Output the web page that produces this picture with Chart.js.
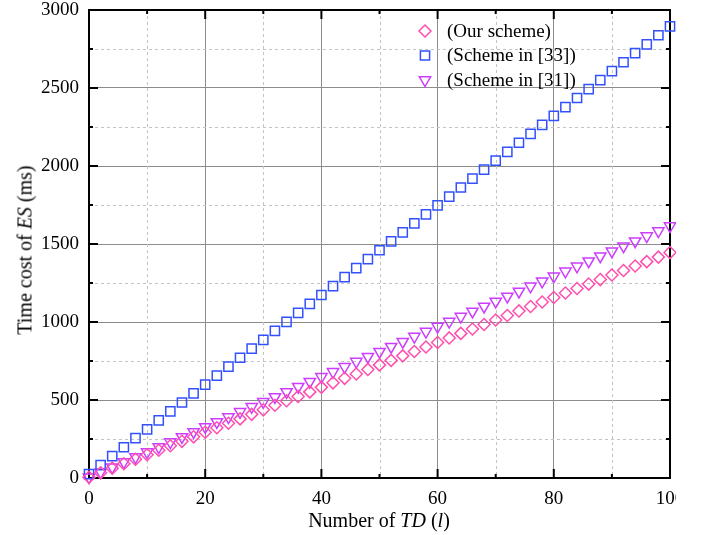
<!DOCTYPE html>
<html>
<head>
<meta charset="utf-8">
<script src="https://cdn.jsdelivr.net/npm/chart.js@4"></script>
<style>
  body { margin: 0; background: #fff; }
  #wrap { position: relative; width: 702px; height: 535px; }
  #clip { position: absolute; left: 0; top: 0; width: 676px; height: 535px; overflow: hidden; }
  .axis-title { position: absolute; font-family: 'Liberation Serif', serif; font-size: 20px; color: #000; white-space: nowrap; }
  #ytitle { left: 25px; top: 250px; transform: translate(-50%, -50%) rotate(-90deg); }
  #xtitle { left: 379px; top: 520px; transform: translate(-50%, -50%); }
</style>
</head>
<body>
<div id="wrap">
  <div id="clip"><canvas id="myChart" width="702" height="535"></canvas></div>
  <div id="ytitle" class="axis-title">Time cost of <i>ES</i> (ms)</div>
  <div id="xtitle" class="axis-title">Number of <i>TD</i> (<i>l</i>)</div>
</div>
<script>
const tdCounts = [0, 2, 4, 6, 8, 10, 12, 14, 16, 18, 20, 22, 24, 26, 28, 30, 32, 34, 36, 38, 40,
  42, 44, 46, 48, 50, 52, 54, 56, 58, 60, 62, 64, 66, 68, 70, 72, 74, 76, 78, 80,
  82, 84, 86, 88, 90, 92, 94, 96, 98, 100];

// time cost (ms)
const ourScheme = [5, 34, 63, 91, 120, 149, 178, 207, 235, 264, 293, 322, 351, 379, 408, 437, 466, 495, 523, 552, 581,
  610, 639, 667, 696, 725, 754, 783, 811, 840, 869, 898, 927, 955, 984, 1013, 1042, 1071, 1099, 1128, 1157,
  1186, 1215, 1243, 1272, 1301, 1330, 1359, 1387, 1416, 1445];
const scheme33 = [25, 82, 140, 197, 255, 312, 369, 427, 484, 542, 599, 656, 714, 771, 829, 886, 943, 1001, 1058, 1116, 1173,
  1230, 1288, 1345, 1403, 1460, 1517, 1575, 1632, 1690, 1747, 1804, 1862, 1919, 1977, 2034, 2091, 2149, 2206, 2264, 2321,
  2378, 2436, 2493, 2551, 2608, 2665, 2723, 2780, 2838, 2895];
const scheme31 = [5, 37, 69, 102, 134, 166, 198, 230, 263, 295, 327, 359, 391, 424, 456, 488, 520, 552, 585, 617, 649,
  681, 713, 746, 778, 810, 842, 874, 907, 939, 971, 1003, 1035, 1068, 1100, 1132, 1164, 1196, 1229, 1261, 1293,
  1325, 1357, 1390, 1422, 1454, 1486, 1518, 1551, 1583, 1615];

const seriesLabels = ['(Our scheme)', '(Scheme in [33])', '(Scheme in [31])'];
const xTicks = { min: 0, max: 100, step: 10, labelEvery: 20 };
const yTicks = { min: 0, max: 3000, step: 250, labelEvery: 500 };

const FONT = 'Liberation Serif';
const styles = [
  { color: '#ff4fae', pointStyle: 'rectRot', radius: 6, rotation: 0 },
  { color: '#3350ff', pointStyle: 'rect', radius: 6.5, rotation: 0 },
  { color: '#cc3dff', pointStyle: 'triangle', radius: 6.5, rotation: 180 }
];

const toPoints = (vals) => vals.map((v, i) => ({ x: tdCounts[i], y: v }));

// frame, minor dashed grid, inward ticks and the legend
const framePlugin = {
  id: 'frame',
  beforeDatasetsDraw(chart) {
    const { ctx, chartArea: a, scales: { x, y } } = chart;
    ctx.save();
    ctx.strokeStyle = '#c4c4c4';
    ctx.lineWidth = 1;
    ctx.setLineDash([3, 3]);
    for (let v = xTicks.min + xTicks.step; v < xTicks.max; v += xTicks.step) {
      if (v % xTicks.labelEvery === 0) continue;
      const px = Math.round(x.getPixelForValue(v)) + 0.5;
      ctx.beginPath(); ctx.moveTo(px, a.top); ctx.lineTo(px, a.bottom); ctx.stroke();
    }
    for (let v = yTicks.min + yTicks.step; v < yTicks.max; v += yTicks.step) {
      if (v % yTicks.labelEvery === 0) continue;
      const py = Math.round(y.getPixelForValue(v)) + 0.5;
      ctx.beginPath(); ctx.moveTo(a.left, py); ctx.lineTo(a.right, py); ctx.stroke();
    }
    ctx.setLineDash([]);
    ctx.strokeStyle = '#000';
    ctx.lineWidth = 2;
    ctx.strokeRect(a.left, a.top, a.right - a.left, a.bottom - a.top);
    // inward tick marks on all four sides
    for (let v = xTicks.min; v <= xTicks.max; v += xTicks.step) {
      const len = v % xTicks.labelEvery === 0 ? 9 : 4;
      const px = x.getPixelForValue(v);
      ctx.beginPath();
      ctx.moveTo(px, a.bottom); ctx.lineTo(px, a.bottom - len);
      ctx.moveTo(px, a.top); ctx.lineTo(px, a.top + len);
      ctx.stroke();
    }
    for (let v = yTicks.min; v <= yTicks.max; v += yTicks.step) {
      const len = v % yTicks.labelEvery === 0 ? 9 : 4;
      const py = y.getPixelForValue(v);
      ctx.beginPath();
      ctx.moveTo(a.left, py); ctx.lineTo(a.left + len, py);
      ctx.moveTo(a.right, py); ctx.lineTo(a.right - len, py);
      ctx.stroke();
    }
    ctx.restore();
  },
  afterDraw(chart) {
    const ctx = chart.ctx;
    ctx.save();
    ctx.font = '19px ' + FONT;
    ctx.textBaseline = 'middle';
    seriesLabels.forEach((label, i) => {
      const yy = 31 + i * 24.5;
      const s = styles[i];
      ctx.strokeStyle = s.color;
      ctx.fillStyle = 'rgba(0,0,0,0)';
      ctx.lineWidth = 1.5;
      Chart.helpers.drawPoint(ctx, { pointStyle: s.pointStyle, radius: s.radius, rotation: s.rotation, borderWidth: 1.5 }, 425, yy);
      ctx.fillStyle = '#000';
      ctx.fillText(label, 447, yy + 1);
    });
    ctx.restore();
  }
};

const datasets = [ourScheme, scheme33, scheme31].map((vals, i) => ({
  label: seriesLabels[i],
  data: toPoints(vals),
  showLine: false,
  pointStyle: styles[i].pointStyle,
  pointRotation: styles[i].rotation,
  pointRadius: styles[i].radius,
  pointBorderColor: styles[i].color,
  pointBackgroundColor: 'rgba(0,0,0,0)',
  pointBorderWidth: 1.5,
  clip: false
}));

new Chart('myChart', {
  type: 'scatter',
  data: { datasets },
  plugins: [framePlugin],
  options: {
    responsive: false,
    animation: false,
    layout: { padding: { left: 0, top: 10, right: 32, bottom: 0 } },
    plugins: { legend: { display: false }, tooltip: { enabled: false } },
    scales: {
      x: {
        type: 'linear',
        min: xTicks.min,
        max: xTicks.max,
        afterFit: (s) => { s.height = 57; s.paddingLeft = 0; s.paddingRight = 0; },
        border: { display: false },
        grid: {
          drawTicks: false,
          color: (c) => (c.tick && c.tick.value % xTicks.labelEvery === 0 ? '#8c8c8c' : 'rgba(0,0,0,0)'),
          lineWidth: 1
        },
        ticks: {
          stepSize: xTicks.step,
          padding: 10,
          color: '#000',
          maxRotation: 0,
          autoSkip: false,
          font: { family: FONT, size: 19 },
          callback: (v) => (v % xTicks.labelEvery === 0 ? v : '')
        }
      },
      y: {
        min: yTicks.min,
        max: yTicks.max,
        afterFit: (s) => { s.width = 89; s.paddingTop = 0; s.paddingBottom = 0; },
        border: { display: false },
        grid: {
          drawTicks: false,
          color: (c) => (c.tick && c.tick.value % yTicks.labelEvery === 0 ? '#8c8c8c' : 'rgba(0,0,0,0)'),
          lineWidth: 1
        },
        ticks: {
          stepSize: yTicks.step,
          padding: 10,
          color: '#000',
          autoSkip: false,
          font: { family: FONT, size: 19 },
          callback: (v) => (v % yTicks.labelEvery === 0 ? v : '')
        }
      }
    }
  }
});
</script>
</body>
</html>
